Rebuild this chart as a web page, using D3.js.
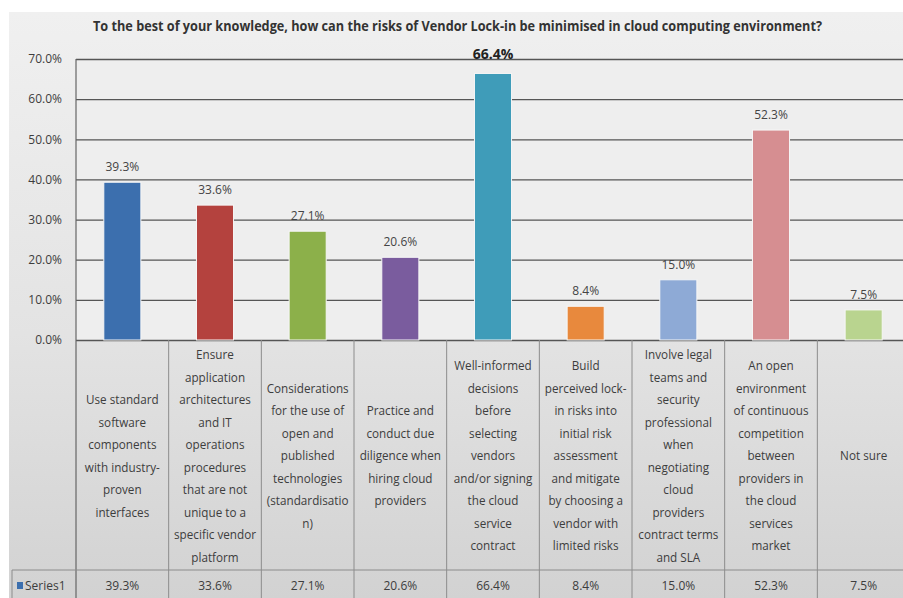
<!DOCTYPE html>
<html>
<head>
<meta charset="utf-8">
<script src="https://cdn.jsdelivr.net/npm/d3@7"></script>
<style>
  body { margin: 0; background: #ffffff; }
  svg text { font-family: "Open Sans", "Noto Sans", sans-serif; fill: #3d3d3d; }
</style>
</head>
<body>
<div id="chart-container"></div>
<script>
// chart size matches the screenshot
const svgWidth = 903;
const svgHeight = 598;

// data
const categories = [
    ["Use standard", "software", "components", "with industry-", "proven", "interfaces"],
    ["Ensure", "application", "architectures", "and IT", "operations", "procedures", "that are not", "unique to a", "specific vendor", "platform"],
    ["Considerations", "for the use of", "open and", "published", "technologies", "(standardisatio", "n)"],
    ["Practice and", "conduct due", "diligence when", "hiring cloud", "providers"],
    ["Well-informed", "decisions", "before", "selecting", "vendors", "and/or signing", "the cloud", "service", "contract"],
    ["Build", "perceived lock-", "in risks into", "initial risk", "assessment", "and mitigate", "by choosing a", "vendor with", "limited risks"],
    ["Involve legal", "teams and", "security", "professional", "when", "negotiating", "cloud", "providers", "contract terms", "and SLA"],
    ["An open", "environment", "of continuous", "competition", "between", "providers in", "the cloud", "services", "market"],
    ["Not sure"]
];
const values = [39.3, 33.6, 27.1, 20.6, 66.4, 8.4, 15.0, 52.3, 7.5];
const barColors = ["#3c6fae", "#b4423e", "#8cb04a", "#7a5c9e", "#3f9cb9", "#e8893d", "#8eaad6", "#d68e91", "#b9d48f"];
const yTicks = [0, 10, 20, 30, 40, 50, 60, 70];
const seriesName = "Series1";
const title = "To the best of your knowledge, how can the risks of Vendor Lock-in be minimised in cloud computing environment?";

// plot area
const plot = { left: 76, right: 910, top: 59, bottom: 340 };
const tableBottom = 570;
const squeeze = 0.9; // fake a condensed font

const svg = d3.select("#chart-container")
    .append("svg")
    .attr("width", svgWidth)
    .attr("height", svgHeight);

const defs = svg.append("defs");
const grad = defs.append("linearGradient")
    .attr("id", "panelGrad")
    .attr("x1", 0).attr("y1", 0).attr("x2", 0).attr("y2", 1);
grad.append("stop").attr("offset", "0%").attr("stop-color", "#f0f0f0");
grad.append("stop").attr("offset", "55%").attr("stop-color", "#e3e3e3");
grad.append("stop").attr("offset", "100%").attr("stop-color", "#d2d2d2");

// grey panel behind everything
svg.append("rect")
    .attr("x", 9).attr("y", 12)
    .attr("width", svgWidth - 9).attr("height", svgHeight - 12)
    .attr("fill", "url(#panelGrad)");

svg.append("rect")
    .attr("x", plot.left).attr("y", plot.top)
    .attr("width", plot.right - plot.left).attr("height", plot.bottom - plot.top)
    .attr("fill", "#eeeeee");

// scales
const x = d3.scaleBand()
    .domain(d3.range(values.length))
    .range([plot.left, plot.right])
    .paddingInner(0.6)
    .paddingOuter(0.3);
const step = x.step();

const y = d3.scaleLinear()
    .domain([0, 70])
    .range([plot.bottom, plot.top]);

// title
svg.append("text")
    .text(title)
    .attr("x", 93)
    .attr("y", 31)
    .attr("textLength", 729)
    .attr("lengthAdjust", "spacingAndGlyphs")
    .style("font-size", "14px")
    .style("font-weight", "bold")
    .style("fill", "#333");

// y axis with gridlines
const yAxis = svg.append("g")
    .attr("transform", `translate(${plot.left},0)`)
    .call(d3.axisLeft(y).tickValues(yTicks).tickSize(-(plot.right - plot.left)).tickPadding(14)
        .tickFormat(d => d.toFixed(1) + "%"));
yAxis.select(".domain").remove();
yAxis.selectAll(".tick line").attr("stroke", "#555").attr("stroke-width", 1.3);
yAxis.selectAll(".tick text")
    .style("font-size", "12px")
    .style("font-family", "\"Open Sans\", sans-serif")
    .attr("fill", "#444");

// left border of the plot, runs down into the table
svg.append("line")
    .attr("x1", plot.left).attr("x2", plot.left)
    .attr("y1", plot.top).attr("y2", svgHeight)
    .attr("stroke", "#666").attr("stroke-width", 1.2);

// bars
svg.selectAll(".bar")
    .data(values)
    .enter()
    .append("rect")
    .attr("class", "bar")
    .attr("x", (d, i) => x(i))
    .attr("y", d => y(d))
    .attr("width", x.bandwidth())
    .attr("height", d => y(0) - y(d))
    .attr("fill", (d, i) => barColors[i])
    .attr("stroke", "#f6f6f6")
    .attr("stroke-width", 1);

// data labels, the biggest one is bold
const maxVal = d3.max(values);
svg.selectAll(".barLabel")
    .data(values)
    .enter()
    .append("text")
    .attr("class", "barLabel")
    .text(d => d.toFixed(1) + "%")
    .attr("x", (d, i) => x(i) + x.bandwidth() / 2)
    .attr("y", d => y(d) - (d === maxVal ? 14 : 11))
    .attr("text-anchor", "middle")
    .style("font-size", d => d === maxVal ? "14px" : "12px")
    .style("font-weight", d => d === maxVal ? "bold" : "normal")
    .style("fill", d => d === maxVal ? "#222" : "#444");

// data table lines
const colEdges = d3.range(values.length + 1).map(i => plot.left + i * step);
svg.selectAll(".colLine")
    .data(colEdges.slice(1))
    .enter()
    .append("line")
    .attr("x1", d => d).attr("x2", d => d)
    .attr("y1", plot.bottom).attr("y2", svgHeight)
    .attr("stroke", "#8c8c8c").attr("stroke-width", 1);

svg.append("line")
    .attr("x1", 12).attr("x2", plot.right)
    .attr("y1", tableBottom).attr("y2", tableBottom)
    .attr("stroke", "#8c8c8c").attr("stroke-width", 1);
svg.append("line")
    .attr("x1", 12).attr("x2", 12)
    .attr("y1", tableBottom).attr("y2", svgHeight)
    .attr("stroke", "#8c8c8c").attr("stroke-width", 1);

// category labels, centred in each cell
const lineH = 22.5;
const cellMid = (plot.bottom + tableBottom) / 2 + 1;
categories.forEach((lines, i) => {
    const t = svg.append("g")
        .attr("transform", `translate(${x(i) + x.bandwidth() / 2},0) scale(${squeeze},1)`)
        .append("text")
        .attr("text-anchor", "middle")
        .style("font-size", "13px");
    const y0 = cellMid - (lines.length - 1) * lineH / 2 + 4.5;
    lines.forEach((ln, k) => {
        t.append("tspan")
            .attr("x", 0)
            .attr("y", y0 + k * lineH)
            .text(ln);
    });
});

// series row
svg.append("rect")
    .attr("x", 17).attr("y", 582)
    .attr("width", 6).attr("height", 7)
    .attr("fill", barColors[0]);
svg.append("text")
    .text(seriesName)
    .attr("x", 25).attr("y", 590)
    .style("font-size", "12px");

svg.selectAll(".rowVal")
    .data(values)
    .enter()
    .append("text")
    .attr("class", "rowVal")
    .text(d => d.toFixed(1) + "%")
    .attr("x", (d, i) => x(i) + x.bandwidth() / 2)
    .attr("y", 590)
    .attr("text-anchor", "middle")
    .style("font-size", "12px");
</script>
</body>
</html>
